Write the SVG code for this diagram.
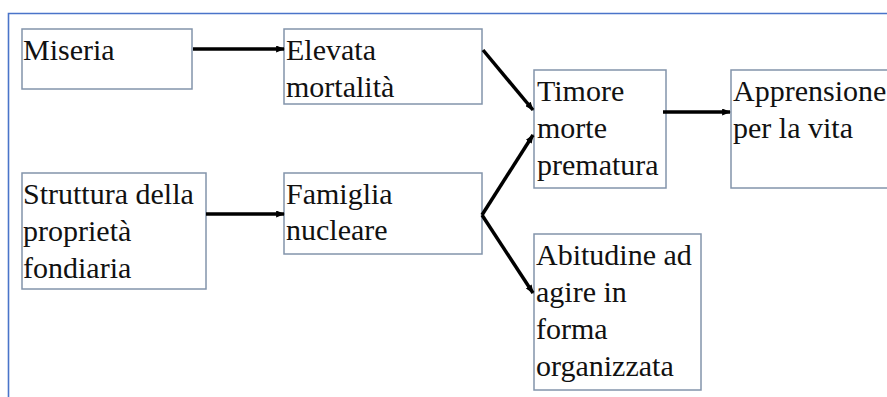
<svg xmlns="http://www.w3.org/2000/svg" width="887" height="397" viewBox="0 0 887 397">
  <style>
    .box { fill: #ffffff; stroke: #8394ab; stroke-width: 1.5; }
    .label { font-family: "Liberation Serif", "Times New Roman", "DejaVu Serif", serif; font-size: 30px; fill: #111111; }
    .link { fill: none; stroke: #000000; stroke-width: 3.5; marker-end: url(#head); }
    .frame { fill: none; stroke: #4a74c9; stroke-width: 1.6; }
  </style>
  <defs>
    <marker id="head" viewBox="0 0 10 8" refX="9" refY="4" markerWidth="9" markerHeight="7" markerUnits="userSpaceOnUse" orient="auto">
      <path d="M0,0 L10,4 L0,8 Z" fill="#000000"/>
    </marker>
  </defs>

  <rect width="887" height="397" fill="#ffffff"/>

  <!-- slide frame -->
  <path class="frame" d="M8.5,397 V13.5 H887"/>

  <g id="miseria">
    <rect class="box" x="22" y="29" width="170" height="60"/>
    <text class="label" x="23" y="60">Miseria</text>
  </g>

  <g id="elevata-mortalita">
    <rect class="box" x="284" y="29" width="198" height="75"/>
    <text class="label" x="286" y="60">Elevata</text>
    <text class="label" x="286" y="97">mortalità</text>
  </g>

  <g id="timore-morte">
    <rect class="box" x="534" y="70" width="132" height="118"/>
    <text class="label" x="537" y="101">Timore</text>
    <text class="label" x="537" y="138">morte</text>
    <text class="label" x="537" y="175">prematura</text>
  </g>

  <g id="apprensione">
    <rect class="box" x="731" y="70" width="170" height="118"/>
    <text class="label" x="733" y="101">Apprensione</text>
    <text class="label" x="733" y="138">per la vita</text>
  </g>

  <g id="struttura">
    <rect class="box" x="22" y="173" width="184" height="116"/>
    <text class="label" x="23" y="204">Struttura della</text>
    <text class="label" x="23" y="241">proprietà</text>
    <text class="label" x="23" y="278">fondiaria</text>
  </g>

  <g id="famiglia-nucleare">
    <rect class="box" x="284" y="173" width="198" height="81"/>
    <text class="label" x="286" y="204">Famiglia</text>
    <text class="label" x="286" y="240">nucleare</text>
  </g>

  <g id="abitudine">
    <rect class="box" x="534" y="234" width="167" height="156"/>
    <text class="label" x="536" y="265">Abitudine ad</text>
    <text class="label" x="536" y="302">agire in</text>
    <text class="label" x="536" y="339">forma</text>
    <text class="label" x="536" y="376">organizzata</text>
  </g>

  <g id="connectors">
    <line class="link" x1="193" y1="49" x2="284" y2="49"/>
    <line class="link" x1="206" y1="214" x2="284" y2="214"/>
    <line class="link" x1="483" y1="50" x2="533" y2="110"/>
    <line class="link" x1="482" y1="215" x2="533" y2="135"/>
    <line class="link" x1="482" y1="215" x2="533" y2="293"/>
    <line class="link" x1="663" y1="112" x2="730" y2="112"/>
  </g>
</svg>
